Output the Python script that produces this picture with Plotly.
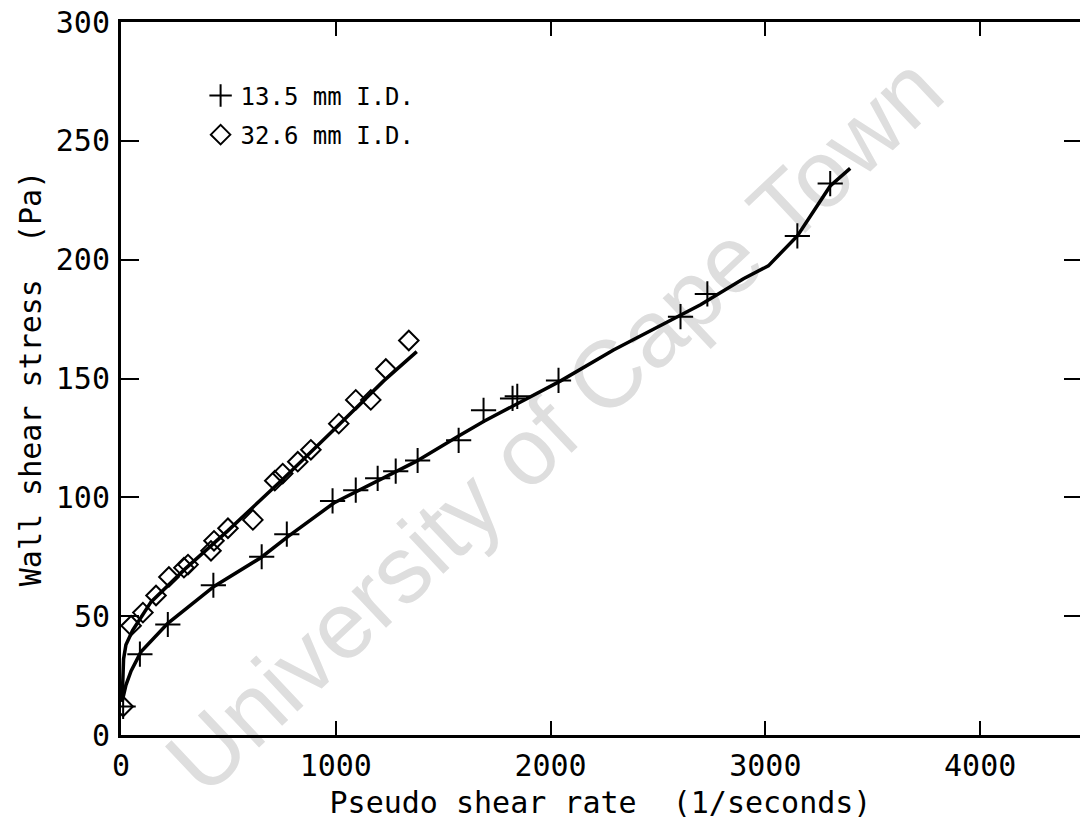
import plotly.graph_objects as go

# ---- data ----
# 13.5 mm I.D. measured points (+)
x_135 = [10, 88, 218, 430, 655, 772, 985, 1093, 1195, 1279, 1381, 1572, 1688, 1823, 1845, 2037, 2605, 2730, 3149, 3302]
y_135 = [12, 34, 46.5, 63, 75, 84.5, 98.5, 103, 108, 111, 115.5, 124, 136.6, 141.6, 142.5, 149.2, 176, 185.6, 210, 232]

# 32.6 mm I.D. measured points (diamond)
x_326 = [10, 47, 102, 163, 223, 293, 312, 419, 433, 498, 614, 716, 753, 823, 884, 1014, 1093, 1163, 1233, 1340]
y_326 = [12, 46, 51.5, 58.7, 66.5, 70.4, 71.7, 77.5, 81.7, 87, 90.5, 107, 110, 115, 120, 131, 141, 141, 154, 166]

# fitted curves
fit_135_x = [5, 12, 23, 47, 93, 218, 433, 651, 777, 991, 1372, 1566, 1690, 2047, 2293, 2698, 2898, 3014, 3149, 3302, 3395]
fit_135_y = [14, 17.5, 21, 27, 35, 47, 62.5, 74.6, 83.5, 97.6, 115, 125.5, 132, 149, 162, 181, 192, 197.4, 210, 231, 238.4]

fit_326_x = [5, 8, 12, 23, 54, 140, 300, 498, 758, 1009, 1223, 1377]
fit_326_y = [14, 24, 32, 38, 44, 56, 70, 86, 108, 130, 149, 161.3]

legend_labels = ["13.5 mm I.D.", "32.6 mm I.D."]
x_title = "Pseudo shear rate  (1/seconds)"
y_title = "Wall shear stress  (Pa)"
watermark = "University of Cape Town"

x_ticks = [0, 1000, 2000, 3000, 4000]
y_ticks = [0, 50, 100, 150, 200, 250, 300]

FONT = "DejaVu Sans Mono"

fig = go.Figure()

fig.add_trace(go.Scatter(x=fit_135_x, y=fit_135_y, mode="lines",
                         line=dict(color="black", width=3.5),
                         showlegend=False, hoverinfo="skip"))
fig.add_trace(go.Scatter(x=fit_326_x, y=fit_326_y, mode="lines",
                         line=dict(color="black", width=3.5),
                         showlegend=False, hoverinfo="skip"))

fig.add_trace(go.Scatter(x=x_135, y=y_135, mode="markers", name=legend_labels[0],
                         legendgroup="a",
                         marker=dict(symbol="cross-thin-open", size=18, color="black",
                                     line=dict(color="black", width=2))))
fig.add_trace(go.Scatter(x=x_326, y=y_326, mode="markers", name=legend_labels[1],
                         legendgroup="b",
                         marker=dict(symbol="diamond-open", size=15, color="black",
                                     line=dict(color="black", width=2))))

# invisible trace to activate the right-hand tick axis
fig.add_trace(go.Scatter(x=[None], y=[None], yaxis="y2", showlegend=False,
                         hoverinfo="skip"))

fig.update_layout(
    width=1080, height=820,
    margin=dict(l=121, r=0, t=22, b=82),
    paper_bgcolor="white",
    plot_bgcolor="rgba(0,0,0,0)",
    font=dict(family=FONT, color="black", size=30),
    xaxis=dict(range=[0, 4465], tickvals=x_ticks, ticks="inside", ticklen=14,
               tickwidth=2, tickcolor="black", showline=True, linewidth=3,
               linecolor="black", mirror="ticks", showgrid=False, zeroline=False,
               tickfont=dict(family=FONT, size=30), ticklabelstandoff=2,
               title=dict(text=x_title, font=dict(family=FONT, size=30), standoff=16)),
    yaxis=dict(range=[0, 300], tickvals=y_ticks, ticks="inside", ticklen=18,
               tickwidth=2, tickcolor="black", showline=True, linewidth=3,
               linecolor="black", mirror=False, showgrid=False, zeroline=False,
               tickfont=dict(family=FONT, size=30), ticklabelstandoff=2,
               title=dict(text=y_title, font=dict(family=FONT, size=30), standoff=6)),
    yaxis2=dict(range=[0, 300], tickvals=y_ticks, overlaying="y", side="right",
                matches="y", ticks="inside", ticklen=16, tickwidth=2,
                tickcolor="black", showline=False, showgrid=False, zeroline=False,
                showticklabels=False),
    legend=dict(x=0.083, y=0.928, xanchor="left", yanchor="top",
                bgcolor="rgba(0,0,0,0)", font=dict(family=FONT, size=24),
                tracegroupgap=5, itemwidth=30),
    showlegend=True,
)

fig.add_shape(type="rect", xref="paper", yref="paper",
              x0=0.43, x1=0.46, y0=0.43, y1=0.46, layer="below",
              line=dict(width=0), fillcolor="rgba(0,0,0,0)",
              label=dict(text=watermark, textangle=-43.3,
                         textposition="middle center",
                         font=dict(family="Liberation Sans", size=95,
                                   color="rgb(222,222,222)")))

fig.write_html("out.html")
